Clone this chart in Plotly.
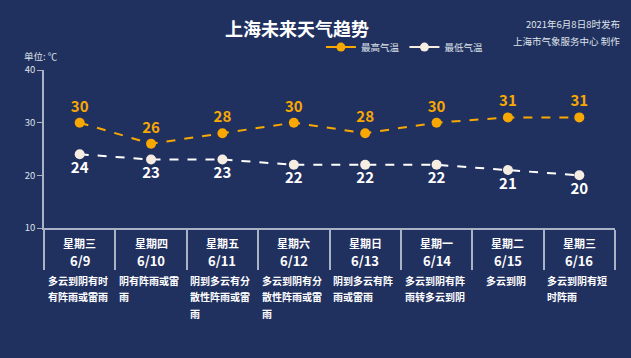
import plotly.graph_objects as go

weekdays = ["星期三", "星期四", "星期五", "星期六", "星期日", "星期一", "星期二", "星期三"]
dates = ["6/9", "6/10", "6/11", "6/12", "6/13", "6/14", "6/15", "6/16"]
t_max = [30, 26, 28, 30, 28, 30, 31, 31]
t_min = [24, 23, 23, 22, 22, 22, 21, 20]
weather = ["多云到阴有时有阵雨或雷雨", "阴有阵雨或雷雨", "阴到多云有分散性阵雨或雷雨",
           "多云到阴有分散性阵雨或雷雨", "阴到多云有阵雨或雷雨", "多云到阴有阵雨转多云到阴",
           "多云到阴", "多云到阴有短时阵雨"]
y_ticks = [10, 20, 30, 40]

BG = "#21315f"
ORANGE = "#f8a800"
CREAM = "#f6ede2"
AXIS = "#aab2c6"
FONT = "Noto Sans CJK SC"

fig = go.Figure()
fig.add_trace(go.Scatter(
    x=dates, y=t_max, mode="lines+markers+text", text=["<b>%d</b>" % v for v in t_max],
    textposition="top center", textfont=dict(color=ORANGE, size=15, family=FONT),
    line=dict(color=ORANGE, width=2, dash="dash"),
    marker=dict(size=10, color=ORANGE), showlegend=False, cliponaxis=False))
fig.add_trace(go.Scatter(
    x=dates, y=t_min, mode="lines+markers+text", text=["<b>%d</b>" % v for v in t_min],
    textposition="bottom center", textfont=dict(color="white", size=15, family=FONT),
    line=dict(color="white", width=2, dash="dash"),
    marker=dict(size=10, color=CREAM), showlegend=False, cliponaxis=False))
# legend entries
fig.add_trace(go.Scatter(x=[None], y=[None], mode="lines+markers", name="最高气温",
                         line=dict(color=ORANGE, width=2), marker=dict(size=9, color=ORANGE)))
fig.add_trace(go.Scatter(x=[None], y=[None], mode="lines+markers", name="最低气温",
                         line=dict(color=CREAM, width=2), marker=dict(size=9, color=CREAM)))

ann = []
def py(p):
    # shift relative to bottom of plot area (pixel 228)
    return -(p - 228)

for i, d in enumerate(dates):
    ann.append(dict(x=d, y=0, xref="x", yref="paper", yanchor="middle", yshift=py(243),
                    text="<b>%s</b>" % weekdays[i], showarrow=False,
                    font=dict(color="white", size=11, family=FONT)))
    ann.append(dict(x=d, y=0, xref="x", yref="paper", yanchor="middle", yshift=py(260),
                    text="<b>%s</b>" % d, showarrow=False,
                    font=dict(color="white", size=13, family=FONT)))
    w = weather[i]
    lines = [w[k:k + 6] for k in range(0, len(w), 6)]
    maxlen = max(len(l) for l in lines)
    fs = 10
    for j, l in enumerate(lines):
        ann.append(dict(x=d, y=0, xref="x", yref="paper", yanchor="middle",
                        xanchor="left", xshift=-maxlen * fs / 2 - 4,
                        yshift=py(280 + j * 16.5), text="<b>%s</b>" % l, showarrow=False,
                        font=dict(color="white", size=fs, family=FONT)))

ann.append(dict(x=0.5, y=1, xref="paper", yref="paper", xanchor="center", yanchor="middle",
                yshift=-(28 - 70), xshift=297 - (44 + 571 / 2),
                text="<b>上海未来天气趋势</b>", showarrow=False,
                font=dict(color="white", size=18, family=FONT)))
ann.append(dict(x=1, y=1, xref="paper", yref="paper", xanchor="right", yanchor="middle",
                xshift=7, yshift=70 - 24, text="2021年6月8日8时发布", showarrow=False,
                font=dict(color="#dfe2ea", size=9.5, family=FONT)))
ann.append(dict(x=1, y=1, xref="paper", yref="paper", xanchor="right", yanchor="middle",
                xshift=7, yshift=70 - 41, text="上海市气象服务中心 制作", showarrow=False,
                font=dict(color="#dfe2ea", size=9.5, family=FONT)))
ann.append(dict(x=0, y=1, xref="paper", yref="paper", xanchor="left", yanchor="middle",
                xshift=-22, yshift=70 - 56, text="单位: ℃", showarrow=False,
                font=dict(color="#dfe2ea", size=9.5, family=FONT)))

fig.update_layout(
    width=631, height=358, paper_bgcolor=BG, plot_bgcolor=BG,
    margin=dict(l=44, r=16, t=70, b=130),
    font=dict(family=FONT, color="#dfe2ea"),
    annotations=ann,
    legend=dict(orientation="h", x=0.485, y=1.145, xanchor="left", yanchor="middle",
                bgcolor="rgba(0,0,0,0)", font=dict(size=9.5, color="#dfe2ea"),
                itemwidth=30),
    xaxis=dict(type="category", range=[-0.5, 7.5],
               showgrid=False, zeroline=False, showline=True, linecolor=AXIS, linewidth=1.5,
               ticks="outside", tickson="boundaries", ticklen=40, tickcolor=AXIS, tickwidth=1.5,
               showticklabels=False),
    yaxis=dict(range=[10, 40], tickvals=y_ticks, showgrid=False, zeroline=False,
               showline=True, linecolor=AXIS, linewidth=1.5, ticks="outside", ticklen=5,
               tickcolor=AXIS, tickfont=dict(size=9.5, color="#dfe2ea")),
)
fig.write_html("out.html")
